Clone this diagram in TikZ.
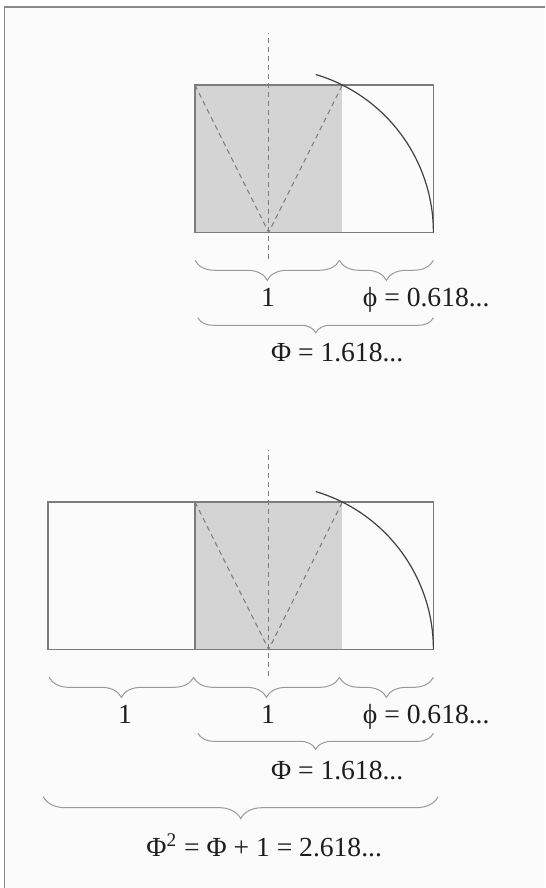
\documentclass[tikz,border=0pt]{standalone}
\usepackage{fontspec}
\setmainfont{Liberation Serif}
\usepackage{xcolor}
\usetikzlibrary{decorations.pathreplacing}
\definecolor{paper}{HTML}{FBFBFB}
\definecolor{framegray}{HTML}{8A8A8A}
\definecolor{edgegray}{HTML}{7C7C7C}
\definecolor{squaregray}{HTML}{D4D4D4}
\definecolor{bracegray}{HTML}{9A9A9A}
\definecolor{inkgray}{HTML}{1E1E1E}
\tikzset{
  edge/.style={draw=edgegray,line width=0.8pt},
  axisline/.style={draw=edgegray,line width=0.5pt,dash pattern=on 2.5pt off 2pt},
  arcline/.style={draw=black!75,line width=0.6pt},
  curly/.style={decorate,decoration={brace,mirror,amplitude=#1},draw=bracegray,line width=0.5pt},
  lbl/.style={inner sep=0pt,text=inkgray,font=\fontsize{13.8}{16}\selectfont}
}
% golden rectangle with shaded unit square, its axis and the compass arc
\newcommand{\goldrect}{%
  \fill[squaregray] (0,0) rectangle (1,1);
  \draw[edge] (0,0) rectangle (1.618,1);
  \draw[axisline] (0,1) -- (0.5,0) -- (1,1);
  \draw[axisline] (0.5,-0.18) -- (0.5,1.35);
  \draw[arcline] (1.618,0) arc[start angle=0,end angle=73.4,radius=1.118];
}

\begin{document}
\begin{tikzpicture}[x=2.59cm,y=2.59cm]
  \useasboundingbox (-1.324,-4.451) rectangle (2.376,1.577);
  \fill[paper] (-1.293,-4.451) rectangle (2.376,1.530);
  \draw[framegray,line width=0.8pt] (-1.293,-4.451) -- (-1.293,1.530) -- (2.376,1.530);

  % upper figure
  \goldrect
  \draw[curly=10pt] (0,-0.19) -- (0.98,-0.19);
  \draw[curly=10pt] (0.98,-0.19) -- (1.618,-0.19);
  \draw[curly=7.5pt] (0.02,-0.58) -- (1.618,-0.58);
  \node[lbl,anchor=base] (oneA) at (0.496,-0.503) {1};
  \node[lbl,anchor=base west] (phiA) at (1.137,-0.503) {ϕ = 0.618...};
  \node[lbl,anchor=base west] (PhiA) at (0.513,-0.88) {Φ = 1.618...};

  % lower figure
  \begin{scope}[shift={(0,-2.831)}]
    \draw[edge] (-1,0) rectangle (0,1);
    \goldrect
    \draw[curly=10pt] (-0.99,-0.19) -- (-0.01,-0.19);
    \draw[curly=10pt] (-0.01,-0.19) -- (0.98,-0.19);
    \draw[curly=10pt] (0.98,-0.19) -- (1.618,-0.19);
    \draw[curly=8pt] (0.02,-0.57) -- (1.618,-0.57);
    \draw[curly=11pt] (-1.03,-1.0) -- (1.65,-1.0);
    \node[lbl,anchor=base] (oneL) at (-0.475,-0.503) {1};
    \node[lbl,anchor=base] (oneB) at (0.496,-0.503) {1};
    \node[lbl,anchor=base west] (phiB) at (1.137,-0.503) {ϕ = 0.618...};
    \node[lbl,anchor=base west] (PhiB) at (0.513,-0.882) {Φ = 1.618...};
    \node[lbl,anchor=base west] (PhiSq) at (-0.333,-1.408) {Φ\textsuperscript{2} = Φ + 1 = 2.618...};
  \end{scope}
\end{tikzpicture}
\end{document}
